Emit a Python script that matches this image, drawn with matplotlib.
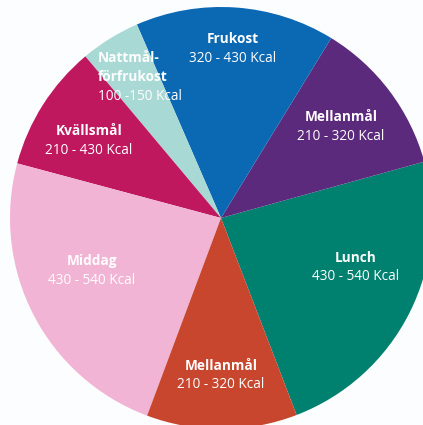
import matplotlib.pyplot as plt

# Meals and their share of the day (degrees of the circle)
meals = ['Lunch', 'Mellanmål', 'Frukost', 'Nattmål-\nförfrukost', 'Kvällsmål', 'Middag', 'Mellanmål']
kcal = ['430 - 540 Kcal', '210 - 320 Kcal', '320 - 430 Kcal', '100 -150 Kcal',
        '210 - 430 Kcal', '430 - 540 Kcal', '210 - 320 Kcal']
shares = [84.5, 43, 55, 16.5, 35, 84.5, 41.5]
colors = ['#00806f', '#5c2a7c', '#0b69b4', '#a9d9d5', '#c0185f', '#f2b4d4', '#c7462d']

# label anchor points in pixel coordinates (origin bottom-left)
label_pos = [(356, 158), (341, 299), (233, 377), (98, 358), (89, 285), (92, 155), (221, 50)]

plt.rcParams['font.family'] = ['Open Sans', 'DejaVu Sans']

fig = plt.figure(figsize=(4.23, 4.25), dpi=100)
fig.patch.set_facecolor('#fcfdfe')
ax = fig.add_axes([0, 0, 1, 1])
ax.set_facecolor('#fcfdfe')

ax.pie(shares, colors=colors, startangle=-69, counterclock=True,
       center=(221, 207), radius=211, frame=True,
       wedgeprops=dict(linewidth=0))

for i, (name, sub) in enumerate(zip(meals, kcal)):
    x, y = label_pos[i]
    if i == 3:
        # multi-line label, left aligned
        lines = name.split('\n')
        for k, ln in enumerate(lines):
            ax.text(x, y + 9 - 19 * k, ln, ha='left', va='center', color='white',
                    fontsize=9.8, fontweight='bold')
        ax.text(x, y + 9 - 19 * len(lines), sub, ha='left', va='center',
                color='white', fontsize=9.8)
    else:
        ax.text(x, y + 9, name, ha='center', va='center', color='white',
                fontsize=9.8, fontweight='bold')
        ax.text(x, y - 10, sub, ha='center', va='center', color='white', fontsize=9.8)

ax.set_xlim(0, 423)
ax.set_ylim(0, 425)
ax.set_aspect('equal')
ax.axis('off')

fig.savefig('out.png', dpi=100, facecolor=fig.get_facecolor())
